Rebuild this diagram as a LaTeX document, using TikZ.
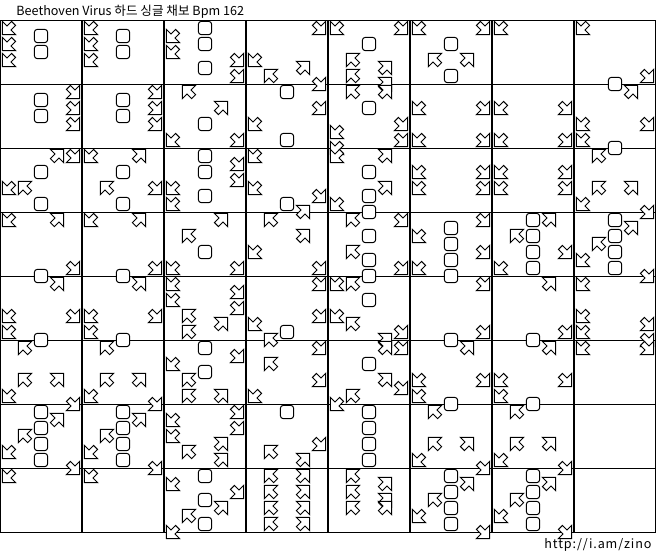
\documentclass[tikz,border=0pt]{standalone}
\usepackage{fontspec}
\newfontfamily\krfont{Noto Sans CJK KR}
\newfontfamily\krwide{Noto Sans CJK KR}[LetterSpace=7]
\definecolor{ink}{RGB}{0,0,0}
\definecolor{paper}{RGB}{255,255,255}

% one step of the chart: column, panel (1..5), eighth below the top rule
\newcommand{\putstep}[3]{%
  \ifnum#2=3
    \path ({82*#1+16*#2-7},{20+8*#3}) pic {pad};%
  \else
    \path ({82*#1+16*#2-7},{20+8*#3}) pic[panel#2] {arw};%
  \fi}

\begin{document}
\begin{tikzpicture}[
  x=0.5pt, y=-0.5pt,
  font=\krfont\fontsize{6.3}{7}\selectfont,
  glyph/.style={draw=ink, fill=paper, line width=0.5pt, line join=miter},
  rule/.style={draw=ink, line width=0.5pt},
  bar/.style={draw=ink, line width=1pt},
  label/.style={anchor=base west, inner sep=0pt, text=ink},
  panel1/.style={},
  panel2/.style={yscale=-1},
  panel4/.style={xscale=-1, yscale=-1},
  panel5/.style={xscale=-1},
  pics/arw/.style={code={
    \draw[glyph] (-6.6,6.6) -- (6.6,6.6) -- (2,2) -- (6.6,-2.6)
      -- (2.6,-6.6) -- (-2,-2) -- (-6.6,-6.6) -- cycle;}},
  pics/pad/.style={code={
    \draw[glyph, rounded corners=1.4pt] (-6.6,-6.6) rectangle (6.6,6.6);}}
]
\useasboundingbox (0,0) rectangle (656,553);

% Header and footer.
\node[label] (title) at (16,15) {Beethoven Virus 하드 싱글 채보 Bpm 162};
\node[label, font=\krwide\fontsize{6.3}{7}\selectfont] (credit)
  at (544,548) {http://i.am/zino};

% Measure rules across the sheet, bars between the eight columns.
\foreach \r in {0,...,8}
  \draw[rule] (0,{20+64*\r}) -- (656,{20+64*\r});
\foreach \c in {1,...,7}
  \draw[bar] ({82*\c},20) -- ({82*\c},532);
\draw[rule] (0.5,20) -- (0.5,532);
\draw[rule] (655.5,20) -- (655.5,532);

% Column 1.
\foreach \lane/\beat in {1/1,3/2,1/3,3/4,1/5, 5/9,3/10,5/11,3/12,5/13,
    4/17,5/17,3/19,1/21,2/21,3/23, 1/25,4/25,5/31,3/32,4/33,
    1/37,5/37,1/39,3/40,2/41, 2/45,4/45,1/47,5/48,
    3/49,4/50,3/51,2/52,3/53,1/54,3/55,5/56,1/57}
  {\putstep{0}{\lane}{\beat}}

% Column 2.
\foreach \lane/\beat in {1/1,3/2,1/3,3/4,1/5, 5/9,3/10,5/11,3/12,5/13,
    1/17,4/17,3/19,2/21,5/21,3/23, 1/25,4/25,5/31,3/32,4/33,
    1/37,5/37,1/39,3/40,2/41, 2/45,4/45,1/47,5/48,
    3/49,4/50,3/51,2/52,3/53,1/54,3/55,5/56,1/57}
  {\putstep{1}{\lane}{\beat}}

% Column 3.
\foreach \lane/\beat in {3/1,1/2,3/3,1/4,5/5,3/6,5/7, 2/9,4/11,3/13,1/15,5/15,
    3/17,5/18,3/19,5/20,1/21,3/22,1/23, 4/25,2/27,3/29,1/31,5/31,
    1/33,5/34,1/35,5/36,2/37,4/38,2/39, 3/41,5/42,1/43,3/44,2/45,2/47,4/47,
    5/49,1/50,5/51,1/52,4/53,2/54,4/55,
    3/57,1/58,5/59,3/60,4/61,2/62,3/63,1/64}
  {\putstep{2}{\lane}{\beat}}

% Column 4.
\foreach \lane/\beat in {5/1,1/5,4/6,2/7,5/8, 3/9,5/11,1/13,3/15,
    1/17,1/21,5/22,3/23,4/24, 2/25,4/27,1/29,5/31,
    5/33,5/37,1/38,3/39,2/40, 5/41,2/43,5/45,1/47,
    3/49,5/53,2/54,4/55, 2/57,4/57,2/59,4/59,2/61,4/61,2/63,4/63}
  {\putstep{3}{\lane}{\beat}}

% Column 5.
\foreach \lane/\beat in {1/1,5/1,3/3,2/5,4/6,2/7,4/8,2/9,4/9,
    3/11,5/13,1/14,5/15,1/16, 1/17,4/17,3/19,4/21,3/22,1/23,3/24,
    2/25,5/25,3/27,2/29,3/30,5/31,3/32,
    1/33,2/33,3/35,1/37,2/38,5/39,4/40,
    4/41,5/41,3/43,4/45,5/46,2/47,1/48, 3/49,3/51,3/53,3/55,
    2/57,4/58,2/59,4/60,2/61,4/61}
  {\putstep{4}{\lane}{\beat}}

% Column 6.
\foreach \lane/\beat in {1/1,5/1,3/3,2/5,4/5,3/7, 1/11,5/11,1/15,5/15,
    1/19,5/19,1/21,5/21, 5/25,3/26,1/27,3/28,5/29,3/30,1/31,3/32,
    5/33,5/39,3/40,4/41, 1/45,5/45,1/47,3/48,2/49,
    2/53,4/53,1/55,5/56, 3/57,4/58,3/59,2/60,3/61,1/62,3/63,5/64}
  {\putstep{5}{\lane}{\beat}}

% Column 7.
\foreach \lane/\beat in {1/1, 1/11,5/11,1/15,5/15, 1/19,5/19,1/21,5/21,
    3/25,4/25,2/27,3/27,3/29,5/29,1/31,3/31,
    4/33,5/39,3/40,4/41, 1/45,5/45,1/47,3/48,2/49,
    2/53,4/53,1/55,5/56, 3/57,4/58,3/59,2/60,3/61,1/62,3/63,5/64}
  {\putstep{6}{\lane}{\beat}}

% Column 8.
\foreach \lane/\beat in {1/1,5/7,3/8,4/9, 1/13,5/13,1/15,3/16,2/17,
    2/21,4/21,1/23,5/24, 3/25,4/26,3/27,2/28,3/29,1/30,3/31,5/32,
    1/33,1/37,5/38,1/39,5/40,1/41,5/41}
  {\putstep{7}{\lane}{\beat}}

\end{tikzpicture}
\end{document}
